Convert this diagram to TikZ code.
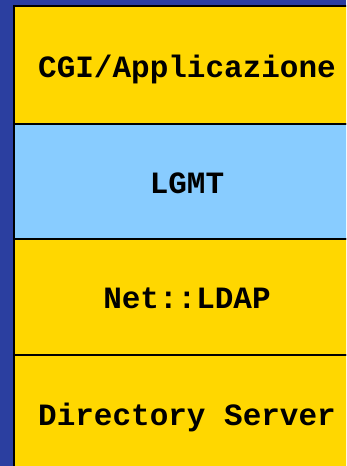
\documentclass[tikz,border=0pt]{standalone}
\usepackage{fontspec}
\newfontfamily\layerfont{Liberation Mono}
\usetikzlibrary{positioning}

\definecolor{slideblue}{RGB}{43,63,160}
\definecolor{layeryellow}{RGB}{255,215,0}
\definecolor{layercyan}{RGB}{136,204,255}

\begin{document}
\begin{tikzpicture}[
  x=1pt, y=1pt,
  node distance=0pt,
  layer/.style={draw=black, line width=2.2pt, fill=layeryellow, rectangle,
    minimum width=346pt, minimum height=116pt, inner sep=0pt, outer sep=0pt,
    text height=24pt, text depth=0pt,
    font=\layerfont\bfseries\fontsize{31}{36}\selectfont},
  middle/.style={fill=layercyan}
]
\useasboundingbox (0,0) rectangle (346,-466);
\fill[slideblue] (0,0) rectangle (346,-466);

\begin{scope}
\clip (0,0) rectangle (346,-466);
\node[layer, minimum height=118pt, anchor=north west] (cgi) at (14,-6) {CGI/Applicazione};
% Niveau 2
\node[layer, middle, minimum height=114.7pt, below=of cgi] (lgmt) {LGMT};
% Niveau 3
\node[layer, minimum height=116.3pt, below=of lgmt] (netldap) {Net::LDAP};
% Niveau 4
\node[layer, below=of netldap] (dirserver) {Directory Server};
\end{scope}
\end{tikzpicture}
\end{document}
